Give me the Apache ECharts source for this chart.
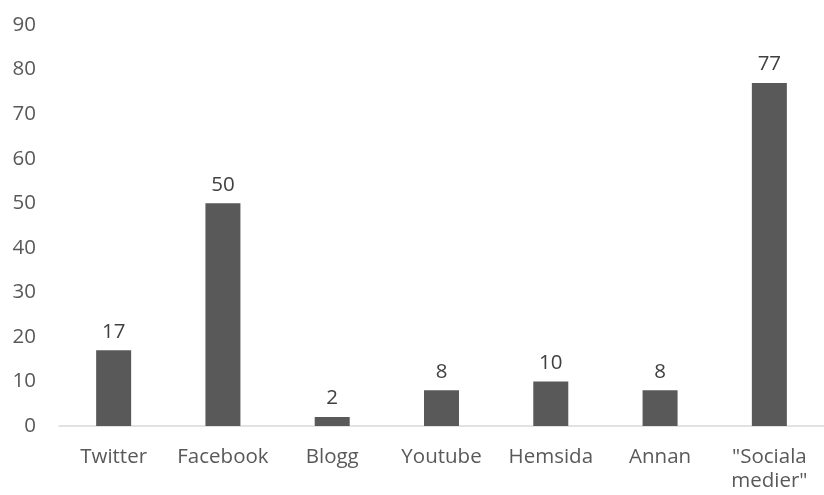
<!DOCTYPE html>
<html><head><meta charset="utf-8">
<script src="https://cdn.jsdelivr.net/npm/echarts@6/dist/echarts.min.js"></script>
<style>html,body{margin:0;padding:0;background:#fff}#c{width:824px;height:495px}</style>
</head><body><div id="c"></div>
<script>
const categories = ['Twitter','Facebook','Blogg','Youtube','Hemsida','Annan','"Sociala\nmedier"'];
const values = [17,50,2,8,10,8,77];
const chart = echarts.init(document.getElementById('c'));
const font = '"Open Sans", "Noto Sans", sans-serif';
chart.setOption({
  animation:false,
  grid:{left:59, top:25, bottom:69, width:777, containLabel:false},
  xAxis:{type:'category', data:categories,
    axisLine:{lineStyle:{color:'#d9d9d9', width:1.5}}, axisTick:{show:false},
    axisLabel:{color:'#595959', fontSize:20.5, fontFamily:font, margin:19, lineHeight:24, interval:0}},
  yAxis:{type:'value', min:0, max:90, interval:10,
    axisLine:{show:false}, axisTick:{show:false}, splitLine:{show:false},
    axisLabel:{color:'#595959', fontSize:20.5, fontFamily:font, margin:23}},
  series:[{type:'bar', data:values, barWidth:35, itemStyle:{color:'#595959'},
    label:{show:true, position:'top', color:'#404040', fontSize:20.5, fontFamily:font, distance:8}}]
});
</script></body></html>
